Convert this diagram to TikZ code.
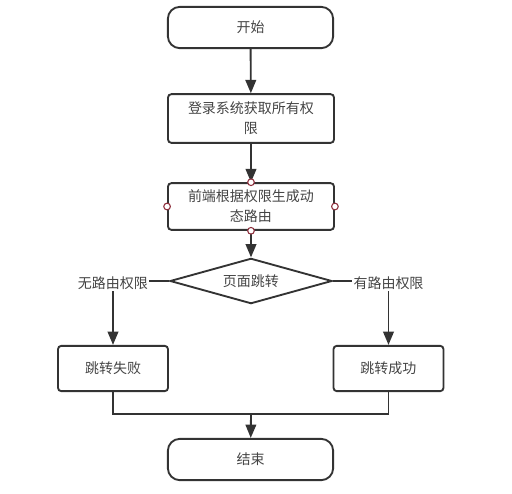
\documentclass[tikz,border=0pt]{standalone}
\usepackage{fontspec}
\setmainfont{Noto Sans CJK SC}
\usetikzlibrary{shapes.geometric,arrows.meta}
\definecolor{linegray}{HTML}{333333}
\definecolor{textgray}{HTML}{444444}
\definecolor{portred}{HTML}{8E2F3C}
\tikzset{
  base/.style={draw=linegray, line width=1.4pt, text=textgray, align=center,
    font=\fontsize{10.5}{15}\selectfont, inner sep=2pt},
  terminal/.style={base, rounded corners=9pt, minimum width=124pt, minimum height=31pt},
  process/.style={base, rounded corners=2.5pt, minimum width=124.5pt, minimum height=36.5pt},
  decision/.style={base, diamond, aspect=3.6, minimum width=121.5pt, minimum height=34pt, inner sep=0pt},
  branch/.style={fill=white, text=textgray, font=\fontsize{10.5}{15}\selectfont, inner sep=1pt, yshift=-2pt},
  port/.style={circle, draw=portred, fill=white, line width=0.8pt, minimum size=5pt, inner sep=0pt},
  flow/.style={draw=linegray, line width=1.4pt}
}
\begin{document}
\begin{tikzpicture}[x=0.75pt, y=-0.75pt, >={Triangle[length=10pt,width=8pt]}]
        \useasboundingbox (0,0) rectangle (512,494);

        % Nodi del diagramma
        \node[terminal] (start) at (250.5,27.5) {开始};
        \node[process] (login) at (251,118.5) {登录系统获取所有权\\限};
        \node[process, minimum height=35pt] (route) at (251,206.5) {前端根据权限生成动\\态路由};
        \node[decision] (jump) at (251,281) {页面跳转};
        \node[process, minimum width=82.5pt, minimum height=34pt] (fail) at (113,368.5) {跳转失败};
        \node[process, minimum width=82.5pt, minimum height=34pt] (ok) at (388.5,368.5) {跳转成功};
        \node[terminal] (end) at (250.5,459.5) {结束};

        % Collegamenti
        \draw[flow, ->] (start) -- (login);
        \draw[flow, ->] (login) -- (route);
        \draw[flow, ->] (route) -- (jump);
        \draw[flow, ->] (jump.west) -| node[branch, pos=0.5] {无路由权限} (fail);
        \draw[flow, ->] (jump.east) -| node[branch, pos=0.5] {有路由权限} (ok);

        % Ricongiungimento
        \coordinate (merge) at (251,414);
        \draw[flow] (fail) |- (merge);
        \draw[flow] (ok) |- (merge);
        \draw[flow, ->] (merge) -- (end);

        % Punti di connessione
        \foreach \a in {north,south,east,west}
          \node[port] at (route.\a) {};
\end{tikzpicture}
\end{document}
